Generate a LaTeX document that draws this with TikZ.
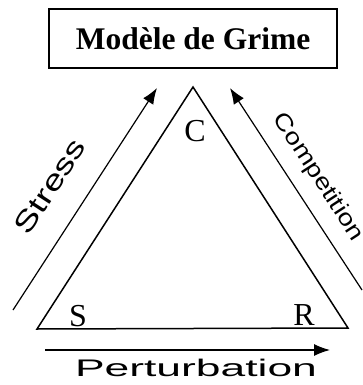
\documentclass[tikz,border=0pt]{standalone}
\usepackage{fontspec}
\usepackage{graphicx}
\setmainfont{Liberation Serif}
\newfontfamily\arialfont{Liberation Sans}
\usetikzlibrary{arrows.meta}
\tikzset{
  edge/.style={line width=1.5pt},
  arr/.style={line width=1.2pt,-{Latex[length=16pt,width=12pt]}},
  vlabel/.style={font=\fontsize{32}{34}\selectfont,inner sep=0pt},
  slabel/.style={inner sep=0pt}
}
\begin{document}
\begin{tikzpicture}[x=1pt,y=-1pt]
\useasboundingbox (0,0) rectangle (363,385);
% title box
\node[draw,line width=1.5pt,minimum width=288pt,minimum height=59pt,inner sep=0pt,
      font=\bfseries\fontsize{31.5}{36}\selectfont] (title) at (193,38.5) {Modèle de Grime};
% triangle
\coordinate (top) at (193,87);
\coordinate (sv) at (37,329);
\coordinate (rv) at (348,328);
\draw[edge,line join=miter] (top) -- (sv) -- (rv) -- cycle;
% vertex labels
\node[vlabel] (C) at (195,131) {C};
\node[vlabel] (S) at (78,316) {S};
\node[vlabel] (R) at (304,315) {R};
% arrows
\coordinate (st0) at (13,310);
\coordinate (st1) at (157,88);
\draw[arr] (st0) -- (st1);
\coordinate (co0) at (362,290);
\coordinate (co1) at (230,88);
\draw[arr] (co0) -- (co1);
\coordinate (pe0) at (45,350);
\coordinate (pe1) at (330,350);
\draw[arr] (pe0) -- (pe1);
% arrow labels
\node[slabel,rotate=57] (stress) at (50,186) {\scalebox{1.35}[1]{\arialfont\fontsize{28}{30}\selectfont Stress}};
\node[slabel,rotate=-57] (comp) at (318,177) {\scalebox{1.2}[1]{\arialfont\fontsize{23}{25}\selectfont Competition}};
\node[slabel] (pert) at (196,368) {\scalebox{1.85}[1]{\arialfont\fontsize{24}{26}\selectfont Perturbation}};
\end{tikzpicture}
\end{document}
